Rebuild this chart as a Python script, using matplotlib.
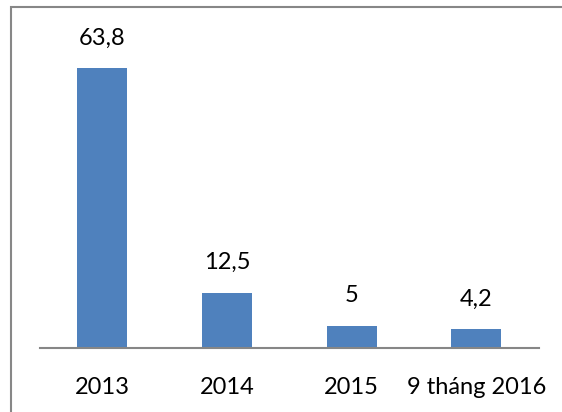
import matplotlib
matplotlib.use("Agg")
import matplotlib.pyplot as plt
from matplotlib.patches import Rectangle

categories = ["2013", "2014", "2015", "9 tháng 2016"]
values = [63.8, 12.5, 5, 4.2]
value_labels = ["63,8", "12,5", "5", "4,2"]

plt.rcParams['font.family'] = ['Lato', 'DejaVu Sans']

W, H = 562, 412
fig = plt.figure(figsize=(W / 100, H / 100), dpi=100)
ax = fig.add_axes([40 / W, 64.5 / H, (538.7 - 40) / W, (347.5 - 40.8) / H])

x = range(len(categories))
ax.bar(x, values, width=0.4, color="#4F81BD")
ax.set_xlim(-0.5, len(categories) - 0.5)
ax.set_ylim(0, 70)

for xi, v, lab in zip(x, values, value_labels):
    ax.annotate(lab, (xi, v), xytext=(0, 14), textcoords="offset points",
                ha="center", va="bottom", fontsize=17, color="black")

ax.set_xticks(list(x))
ax.set_xticklabels(categories, fontsize=17)
ax.tick_params(axis="x", length=0, pad=21)
ax.set_yticks([])
for s in ["top", "right", "left"]:
    ax.spines[s].set_visible(False)
ax.spines["bottom"].set_color("#868686")
ax.spines["bottom"].set_linewidth(1.5)

frame = Rectangle((11 / W, -0.2), 1.0, (412 - 7) / H + 0.2, transform=fig.transFigure,
                  fill=False, edgecolor="#878787", linewidth=1.5)
fig.patches.append(frame)

fig.savefig("out.png", dpi=100)
